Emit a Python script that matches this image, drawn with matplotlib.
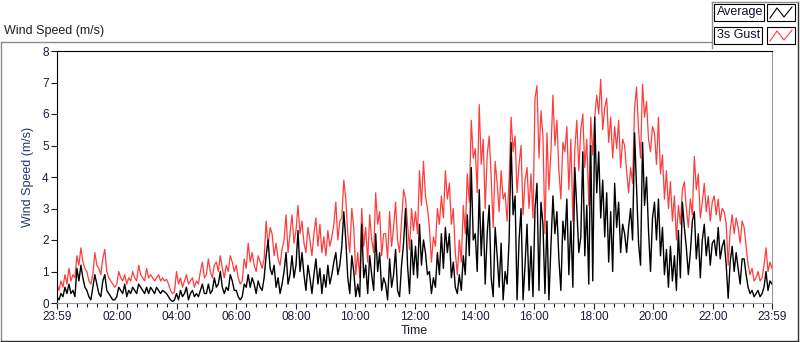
import numpy as np
import matplotlib
matplotlib.use('Agg')
import matplotlib.pyplot as plt
from matplotlib.lines import Line2D
from matplotlib.patches import Rectangle

# wind speed (m/s), 4-minute samples, one row per hour starting 23:59
gust = [
    0.6, 0.4, 0.7, 0.5, 0.9, 0.6, 1.1, 0.7, 0.9, 0.8, 1.5, 1.2, 1.75, 1.3, 1.1,
    1.0, 0.7, 0.6, 0.9, 1.6, 1.2, 1.1, 0.9, 1.4, 1.7, 1.0, 0.8, 0.7, 0.6, 0.5,
    0.6, 1.0, 0.8, 0.7, 0.9, 0.6, 0.8, 0.7, 1.0, 0.8, 0.7, 1.2, 0.9, 0.8, 0.7,
    1.1, 0.8, 0.9, 0.8, 0.7, 0.8, 0.9, 0.7, 0.8, 0.7, 0.75, 0.6, 0.4, 0.3, 0.35,
    1.0, 0.6, 0.8, 0.5, 0.7, 0.9, 0.6, 0.7, 0.8, 0.5, 0.7, 0.6, 1.0, 1.3, 0.8,
    0.9, 1.4, 1.0, 0.8, 1.2, 1.3, 1.0, 1.5, 1.1, 0.8, 1.2, 1.0, 1.5, 1.3, 1.0,
    1.2, 0.8, 0.6, 0.7, 1.4, 1.1, 1.9, 1.3, 1.6, 1.2, 1.0, 1.5, 1.3, 1.1, 1.4,
    2.6, 1.8, 2.4, 2.2, 1.5, 1.9, 1.4, 1.2, 1.7, 2.0, 2.8, 1.6, 2.2, 2.8, 1.9,
    2.3, 3.1, 2.2, 2.6, 1.9, 1.6, 2.4, 2.0, 1.5, 2.2, 2.7, 1.8, 2.5, 1.6, 2.1,
    1.5, 2.3, 1.8, 2.1, 2.5, 3.2, 2.0, 2.6, 2.7, 3.9, 3.3, 2.2, 1.6, 3.0, 2.4,
    0.9, 1.6, 0.8, 3.0, 1.8, 2.4, 1.3, 2.8, 2.0, 1.6, 3.5, 2.5, 2.9, 1.5, 2.2,
    2.2, 1.4, 2.9, 1.8, 2.4, 3.2, 2.0, 1.6, 2.6, 3.6, 3.3, 2.5, 1.7, 3.0, 2.3,
    2.9, 2.2, 4.2, 3.1, 4.5, 3.4, 3.0, 2.4, 1.3, 2.1, 1.8, 3.0, 2.5, 3.4, 2.7,
    4.2, 3.3, 3.8, 2.5, 3.0, 1.6, 0.9, 2.0, 1.3, 3.1, 2.2, 4.1, 3.2, 5.8, 4.6,
    4.9, 3.5, 6.3, 4.4, 5.2, 3.0, 4.7, 5.3, 4.0, 2.4, 4.5, 3.8, 2.9, 4.2, 3.3,
    3.5, 2.6, 3.9, 5.9, 4.8, 5.3, 3.5, 4.4, 5.0, 2.8, 3.9, 4.3, 3.0, 4.1, 2.7,
    6.5, 6.9, 4.6, 6.1, 5.3, 2.2, 5.4, 3.6, 4.8, 6.6, 5.0, 5.8, 4.2, 3.3, 5.1,
    4.8, 5.6, 3.6, 5.2, 2.6, 4.9, 5.8, 4.2, 5.5, 6.0, 4.3, 5.2, 3.1, 5.9, 4.7,
    5.9, 6.6, 6.0, 7.1, 5.5, 6.2, 6.5, 5.1, 5.9, 4.6, 5.6, 4.9, 5.8, 4.3, 5.2,
    5.0, 4.2, 3.5, 4.3, 3.8, 6.2, 6.85, 5.5, 4.6, 6.95, 5.9, 6.4, 5.2, 4.8, 5.6,
    5.4, 4.4, 5.9, 4.1, 4.7, 3.3, 4.2, 3.0, 3.85, 2.6, 3.4, 2.0, 3.1, 2.5, 3.6,
    3.85, 3.0, 2.4, 3.3, 2.8, 4.65, 3.6, 4.1, 2.7, 3.2, 3.8, 2.9, 3.4, 2.6, 3.2,
    3.4, 2.8, 3.3, 2.6, 3.0, 2.9, 2.5, 1.2, 2.3, 2.8, 2.2, 2.7, 2.4, 1.9, 2.6,
    2.4, 1.8, 1.2, 0.9, 1.1, 0.7, 0.8, 1.0, 0.7, 0.8, 1.2, 1.75, 1.0, 1.3, 1.1,
]
average = [
    0.2, 0.1, 0.3, 0.2, 0.5, 0.3, 0.6, 0.3, 0.4, 0.2, 1.1, 0.7, 1.2, 0.8, 0.5,
    0.4, 0.2, 0.1, 0.5, 0.9, 0.6, 0.3, 0.2, 0.7, 0.9, 0.4, 0.3, 0.2, 0.1, 0.1,
    0.2, 0.5, 0.4, 0.3, 0.6, 0.2, 0.4, 0.3, 0.5, 0.4, 0.3, 0.6, 0.5, 0.4, 0.3,
    0.5, 0.3, 0.5, 0.4, 0.3, 0.5, 0.4, 0.3, 0.4, 0.35, 0.3, 0.2, 0.1, 0.05, 0.1,
    0.3, 0.1, 0.4, 0.2, 0.3, 0.5, 0.1, 0.3, 0.4, 0.2, 0.3, 0.2, 0.4, 0.6, 0.3,
    0.3, 0.6, 0.3, 0.4, 0.8, 0.5, 0.6, 1.0, 0.5, 0.3, 0.5, 0.4, 0.9, 0.7, 0.4,
    0.4, 0.2, 0.1, 0.2, 0.6, 0.5, 0.9, 0.5, 0.8, 0.6, 0.3, 0.7, 0.5, 0.4, 0.8,
    1.5, 2.0, 1.1, 0.9, 1.2, 0.5, 0.8, 0.3, 0.6, 1.0, 1.6, 0.6, 0.9, 1.5, 0.8,
    1.2, 2.3, 1.0, 1.6, 0.9, 0.4, 1.2, 0.8, 0.3, 0.9, 1.4, 0.6, 1.1, 0.3, 0.9,
    0.5, 1.2, 0.6, 0.9, 1.3, 1.6, 0.9, 1.2, 1.8, 2.9, 2.0, 0.8, 0.3, 1.5, 1.0,
    0.2, 0.6, 0.2, 2.5, 0.8, 1.2, 0.3, 1.5, 0.9, 0.4, 2.2, 1.0, 1.6, 0.4, 0.8,
    0.6, 0.1, 1.4, 0.5, 0.9, 1.7, 0.4, 0.2, 1.2, 1.9, 3.0, 1.2, 0.3, 2.0, 0.9,
    1.8, 0.8, 2.5, 1.2, 2.0, 1.6, 0.9, 1.0, 0.3, 0.8, 0.5, 1.6, 0.9, 2.2, 1.1,
    2.4, 1.6, 2.2, 0.8, 1.3, 0.5, 0.3, 0.9, 0.4, 1.5, 0.9, 2.8, 1.5, 4.3, 2.0,
    2.2, 1.0, 3.6, 1.5, 2.9, 0.6, 2.2, 3.1, 0.8, 0.2, 2.4, 1.5, 0.5, 1.9, 0.1,
    1.0, 0.6, 2.0, 5.1, 2.8, 3.4, 0.1, 2.0, 3.0, 0.1, 1.2, 2.5, 0.4, 1.8, 0.2,
    3.0, 3.8, 0.4, 3.2, 2.5, 0.3, 2.6, 0.1, 1.8, 3.4, 2.2, 2.9, 1.4, 0.4, 2.6,
    2.0, 3.3, 0.9, 2.6, 0.5, 4.3, 3.0, 1.6, 2.1, 4.8, 1.5, 3.1, 0.6, 5.0, 0.7,
    5.9, 3.5, 4.8, 2.7, 3.9, 2.1, 3.5, 1.3, 2.9, 1.0, 3.8, 2.4, 3.2, 1.6, 2.5,
    2.2, 1.6, 2.4, 3.0, 2.0, 5.4, 3.6, 1.9, 1.2, 5.1, 3.1, 4.0, 2.3, 1.0, 2.7,
    3.2, 2.0, 3.3, 1.5, 2.4, 0.9, 1.7, 0.5, 1.8, 0.7, 1.5, 0.4, 2.3, 0.8, 3.2,
    2.4, 1.75, 0.9, 1.6, 2.6, 2.9, 1.4, 2.2, 0.8, 2.0, 2.5, 1.5, 2.1, 1.2, 1.9,
    2.0, 1.5, 2.4, 1.4, 1.8, 2.0, 1.2, 0.15, 1.3, 1.8, 1.0, 1.6, 1.1, 0.6, 1.4,
    1.4, 0.9, 0.5, 0.3, 0.4, 0.2, 0.3, 0.4, 0.2, 0.3, 0.5, 1.0, 0.4, 0.7, 0.6,
]
tick_labels = ['23:59', '02:00', '04:00', '06:00', '08:00', '10:00', '12:00',
               '14:00', '16:00', '18:00', '20:00', '22:00', '23:59']
tick_minutes = [0, 121, 241, 361, 481, 601, 721, 841, 961, 1081, 1201, 1321, 1440]

plt.rcParams['font.family'] = ['Liberation Sans', 'DejaVu Sans']
W, H = 800, 342
fig = plt.figure(figsize=(W / 100, H / 100), dpi=100)

def fx(x):
    return x / W

def fy(y):
    return 1 - y / H

t = np.linspace(0, 1440, len(gust))

ax = fig.add_axes([fx(57), fy(303), fx(772) - fx(57), fy(51) - fy(303)])
ax.plot(t, gust, color='#ff3c3c', lw=0.9)
ax.plot(t, average, color='black', lw=1.0)
ax.set_xlim(0, 1440)
ax.set_ylim(0, 8)

tc = '#1a1a3a'
ax.set_yticks(range(0, 9))
ax.set_xticks(tick_minutes)
ax.set_xticklabels(tick_labels)
ax.set_xticks(np.arange(1, 1440, 20), minor=True)
ax.tick_params(axis='both', labelsize=8.5, colors=tc, length=4, width=0.8, pad=2)
ax.tick_params(axis='x', which='minor', length=3, width=0.8, colors=tc)
ax.set_xlabel('Time', fontsize=9, color=tc, labelpad=1)
ax.set_ylabel('Wind Speed (m/s)', fontsize=9, color='#1f3a78', labelpad=6)

for s in ['left', 'top']:
    ax.spines[s].set_color('black')
for s in ['right', 'bottom']:
    ax.spines[s].set_color('#9a9a9a')

# outer panel frame
def fline(x0, y0, x1, y1, c='#8c8c8c', lw=1.0):
    fig.add_artist(Line2D([fx(x0), fx(x1)], [fy(y0), fy(y1)], color=c, lw=lw,
                          transform=fig.transFigure))

fline(0.5, 42, 712, 42)
fline(0.5, 42, 0.5, 341)
fline(0.5, 341, 798, 341, c='#303030')
fline(798, 2, 798, 341, c='#303030')
fline(712, 2, 712, 48)
fline(712, 2, 798, 2)

fig.text(fx(4), fy(31), 'Wind Speed (m/s)', fontsize=9, color='#202020',
         ha='left', va='center')

# legend
legend = [('Average', 'black', 764), ('3s Gust', '#ff3c3c', 762)]
for i, (name, col, xr) in enumerate(legend):
    y0 = 4 + i * 23
    fig.add_artist(Rectangle((fx(714), fy(y0 + 17)), fx(xr) - fx(714), fy(y0) - fy(y0 + 17),
                             fill=False, ec='black', lw=0.8, transform=fig.transFigure))
    fig.text(fx(717), fy(y0 + 8.5), name, fontsize=9, color='#101030',
             ha='left', va='center')
    fig.add_artist(Rectangle((fx(767), fy(y0 + 17)), fx(795) - fx(767), fy(y0) - fy(y0 + 17),
                             fill=False, ec='black', lw=0.8, transform=fig.transFigure))
    zx = [770, 777, 784, 792]
    zy = [y0 + 14, y0 + 4, y0 + 13, y0 + 3]
    fig.add_artist(Line2D([fx(v) for v in zx], [fy(v) for v in zy], color=col, lw=0.8,
                          transform=fig.transFigure))

fig.savefig('out.png', dpi=100)
